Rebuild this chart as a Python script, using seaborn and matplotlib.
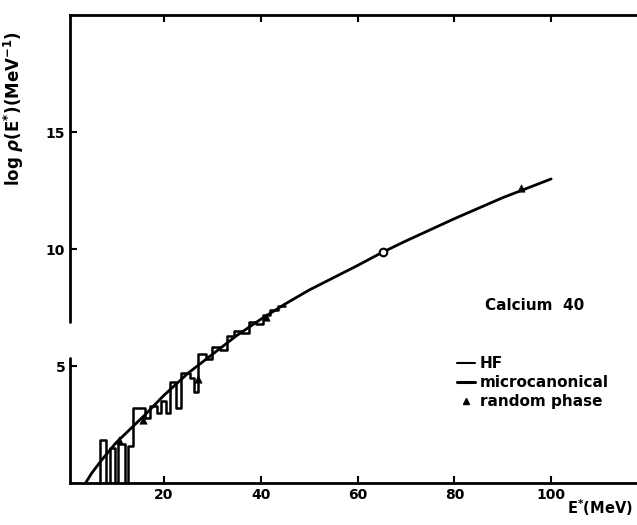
import numpy as np
import pandas as pd
import matplotlib
matplotlib.use("Agg")
import matplotlib.pyplot as plt
from matplotlib.lines import Line2D
import seaborn as sns

# smooth curve (HF / microcanonical), E* in MeV vs log rho
curve_e = [3.8, 5, 7, 10, 13, 16, 20, 25, 30, 35, 40, 45, 50, 60, 65, 70, 80, 90, 100]
curve_logrho = [0.0, 0.4, 0.95, 1.7, 2.3, 2.9, 3.75, 4.7, 5.5, 6.3, 7.0, 7.65, 8.25,
                9.3, 9.85, 10.35, 11.3, 12.2, 13.0]

# step histogram of the exact level density
hist_edges = [6.7, 8.0, 8.8, 9.9, 10.4, 12.0, 12.6, 13.6, 16.0, 17.2, 18.6, 19.4,
              20.4, 21.2, 22.4, 23.6, 25.4, 26.3, 27.0, 28.6, 30.0, 31.5, 33.0,
              34.5, 36.0, 37.5, 39.0, 40.5, 42.0, 43.5, 45.0]
hist_vals = [1.85, 0.0, 1.5, 0.0, 1.65, 0.0, 1.6, 3.2, 2.8, 3.3, 3.0, 3.5, 3.0,
             4.3, 3.2, 4.7, 4.5, 3.9, 5.5, 5.3, 5.8, 5.7, 6.3, 6.5, 6.4, 6.9,
             6.8, 7.2, 7.4, 7.55]

# random phase points
rp_e = [10.8, 15.7, 27.0, 41.0, 93.8]
rp_logrho = [1.85, 2.7, 4.45, 7.1, 12.6]
circle_e = [65.3]
circle_logrho = [9.87]

sns.set_theme(style="white")
plt.rcParams['font.family'] = ['DejaVu Sans']
plt.rcParams['font.weight'] = 'bold'
plt.rcParams['text.color'] = 'black'
plt.rcParams['axes.labelcolor'] = 'black'
plt.rcParams['xtick.color'] = 'black'
plt.rcParams['ytick.color'] = 'black'

fig = plt.figure(figsize=(6.37, 5.25), dpi=100)
ax = fig.add_axes([0.11, 0.08, 0.93, 0.891])

curve_df = pd.DataFrame({"E": curve_e, "logrho": curve_logrho})
sns.lineplot(data=curve_df, x="E", y="logrho", color="black", lw=2.0, ax=ax,
             estimator=None, sort=False)

hx = [hist_edges[0]] + hist_edges
hy = [0.0] + hist_vals + [hist_vals[-1]]
hist_df = pd.DataFrame({"E": hx, "logrho": hy})
sns.lineplot(data=hist_df, x="E", y="logrho", color="black", lw=1.8, ax=ax,
             estimator=None, sort=False, drawstyle="steps-post")

sns.scatterplot(x=rp_e, y=rp_logrho, marker="^", color="black", s=28, ax=ax,
                edgecolor="black", zorder=5)
sns.scatterplot(x=circle_e, y=circle_logrho, marker="o", facecolor="white",
                edgecolor="black", linewidth=1.5, s=30, ax=ax, zorder=5)

ax.set_xlim(0.6, 123)
ax.set_ylim(0, 20)
ax.set_xticks([20, 40, 60, 80, 100])
ax.set_yticks([5, 10, 15])
ax.tick_params(direction="in", length=5, width=1.5, labelsize=10, top=True,
               left=True, bottom=True, colors="black")
for lab in ax.get_xticklabels() + ax.get_yticklabels():
    lab.set_fontweight("bold")

# broken left axis
ax.spines['left'].set_visible(False)
ax.spines['right'].set_visible(False)
for sp in ['top', 'bottom']:
    ax.spines[sp].set_linewidth(2.0)
    ax.spines[sp].set_color("black")
ax.axvline(0.6, ymin=0.0, ymax=0.267, color="black", lw=2.0, clip_on=False)
ax.axvline(0.6, ymin=0.344, ymax=1.0, color="black", lw=2.0, clip_on=False)

ax.set_xlabel("")
ax.set_ylabel(r"log $\rho$(E$^{*}$)(MeV$^{-1}$)", fontsize=12, fontweight="bold")
ax.yaxis.set_label_coords(-0.075, 0.8)
ax.text(0.95, -0.053, r"E$^{*}$(MeV)", transform=ax.transAxes, ha="right",
        va="center", fontsize=10.5, fontweight="bold")

ax.text(0.70, 0.38, "Calcium  40", transform=ax.transAxes, ha="left",
        va="center", fontsize=11, fontweight="bold")

handles = [Line2D([], [], color="black", lw=1.5),
           Line2D([], [], color="black", lw=2.2),
           Line2D([], [], color="black", marker="^", ls="none", markersize=4)]
ax.legend(handles, ["HF", "microcanonical", "random phase"], loc="upper left",
          bbox_to_anchor=(0.63, 0.3), frameon=False, handlelength=1.2,
          handletextpad=0.3, labelspacing=0.25, prop={"size": 11, "weight": "bold"})

fig.savefig("out.png", dpi=100)
